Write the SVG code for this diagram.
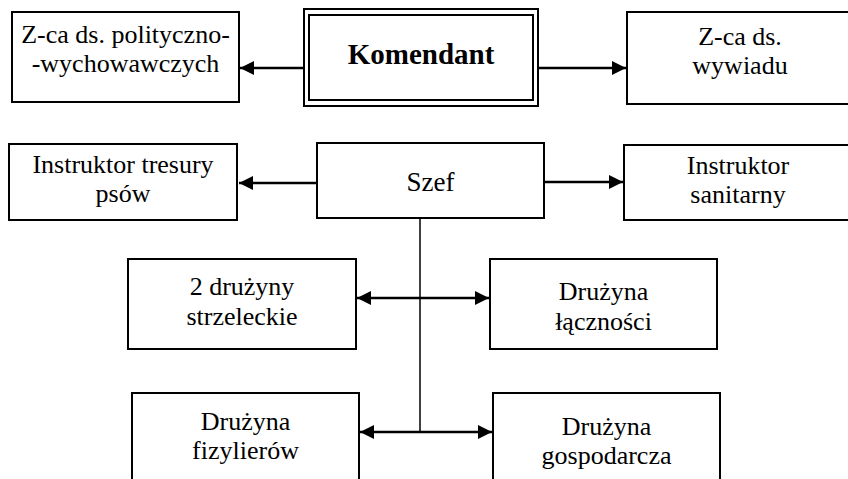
<svg xmlns="http://www.w3.org/2000/svg" width="848" height="479" viewBox="0 0 848 479">
<style>
.box{fill:#fff;stroke:#000;stroke-width:2}
text{font-family:'Liberation Serif','DejaVu Serif',serif;font-size:26px;fill:#000;text-anchor:middle}
.b{font-weight:bold;font-size:29px}
.c{fill:none;stroke:#000;stroke-width:2.5}
.v{fill:none;stroke:#000;stroke-width:1.5}
</style>
<defs>
<marker id="ah" markerUnits="userSpaceOnUse" markerWidth="16" markerHeight="16" refX="14" refY="8" orient="auto-start-reverse" viewBox="0 0 16 16">
<path d="M0,1 L14,8 L0,15 Z" fill="#000"/>
</marker>
</defs>
<rect width="848" height="479" fill="#fff"/>
<g id="connectors">
<path class="c" d="M304,68 H240" marker-end="url(#ah)"/>
<path class="c" d="M538,68 H626" marker-end="url(#ah)"/>
<path class="c" d="M317,183 H239" marker-end="url(#ah)"/>
<path class="c" d="M544,182 H623" marker-end="url(#ah)"/>
<path class="v" d="M420,219 V432"/>
<path class="c" d="M357,298 H489" marker-start="url(#ah)" marker-end="url(#ah)"/>
<path class="c" d="M360,432 H492" marker-start="url(#ah)" marker-end="url(#ah)"/>
</g>
<g id="zca-polit">
<rect class="box" x="12" y="12" width="227" height="90"/>
<text font-family="Liberation Serif, serif" x="125.5" y="43">Z-ca ds. polityczno-</text>
<text font-family="Liberation Serif, serif" x="125.5" y="72">-wychowawczych</text>
</g>
<g id="komendant">
<rect class="box" x="304" y="9" width="234" height="97"/>
<rect class="box" x="309" y="15" width="224" height="85"/>
<text class="b" font-family="Liberation Serif, serif" x="421" y="64">Komendant</text>
</g>
<g id="zca-wywiad">
<rect class="box" x="627" y="12" width="227" height="92"/>
<text font-family="Liberation Serif, serif" x="740" y="45">Z-ca ds.</text>
<text font-family="Liberation Serif, serif" x="740" y="74">wywiadu</text>
</g>
<g id="instr-psow">
<rect class="box" x="9" y="144" width="228" height="76"/>
<text font-family="Liberation Serif, serif" x="123" y="173">Instruktor tresury</text>
<text font-family="Liberation Serif, serif" x="123" y="202">psów</text>
</g>
<g id="szef">
<rect class="box" x="317" y="143" width="227" height="75"/>
<text font-family="Liberation Serif, serif" x="430.5" y="191" style="font-size:27px">Szef</text>
</g>
<g id="instr-san">
<rect class="box" x="624" y="145" width="228" height="75"/>
<text font-family="Liberation Serif, serif" x="738" y="174">Instruktor</text>
<text font-family="Liberation Serif, serif" x="738" y="203">sanitarny</text>
</g>
<g id="druzyny-strz">
<rect class="box" x="128" y="259" width="228" height="90"/>
<text font-family="Liberation Serif, serif" x="242" y="295">2 drużyny</text>
<text font-family="Liberation Serif, serif" x="242" y="325">strzeleckie</text>
</g>
<g id="druzyna-lacz">
<rect class="box" x="490" y="259" width="227" height="90"/>
<text font-family="Liberation Serif, serif" x="603.5" y="300">Drużyna</text>
<text font-family="Liberation Serif, serif" x="603.5" y="330">łączności</text>
</g>
<g id="druzyna-fiz">
<rect class="box" x="132" y="393" width="227" height="100"/>
<text font-family="Liberation Serif, serif" x="245.5" y="430">Drużyna</text>
<text font-family="Liberation Serif, serif" x="245.5" y="459">fizylierów</text>
</g>
<g id="druzyna-gosp">
<rect class="box" x="493" y="393" width="227" height="100"/>
<text font-family="Liberation Serif, serif" x="606.5" y="435">Drużyna</text>
<text font-family="Liberation Serif, serif" x="606.5" y="464">gospodarcza</text>
</g>
</svg>
